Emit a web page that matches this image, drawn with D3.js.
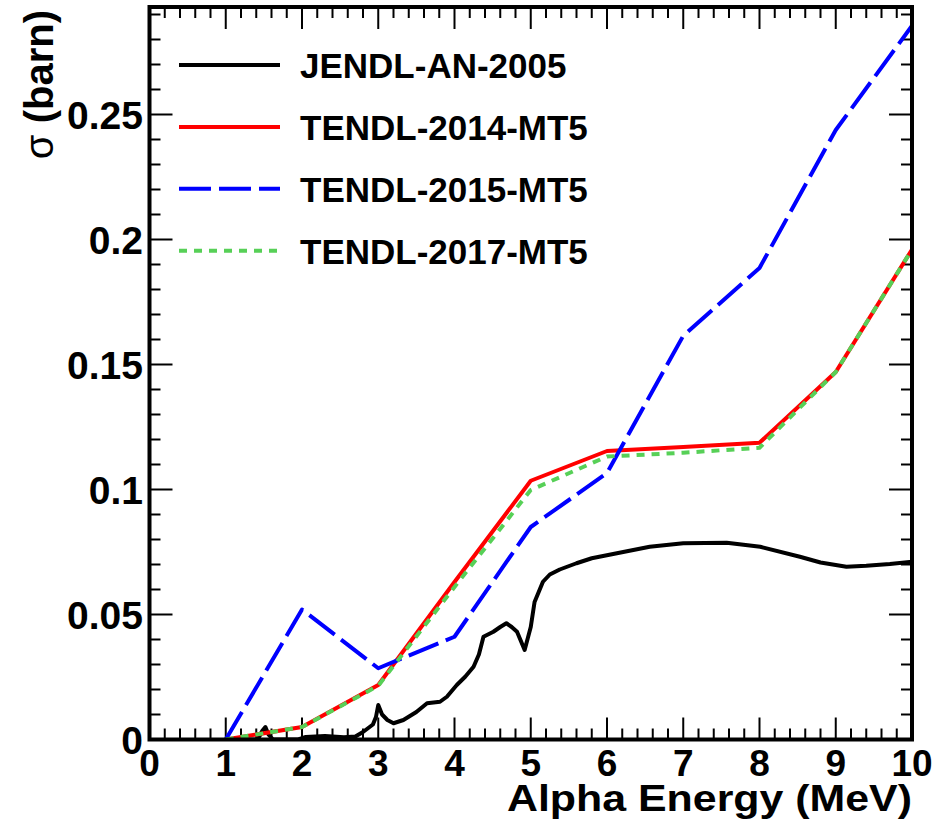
<!DOCTYPE html>
<html>
<head>
<meta charset="utf-8">
<script src="https://cdn.jsdelivr.net/npm/d3@7"></script>
<style>
  html, body { margin: 0; padding: 0; background: #fff; }
  text { font-family: "Liberation Sans", Arial, Helvetica, sans-serif; font-weight: bold; fill: #000; }
</style>
</head>
<body>
<svg id="chart" width="937" height="828"></svg>
<script>
// ---- data ----
const xTickValues = [0, 1, 2, 3, 4, 5, 6, 7, 8, 9, 10];
const yTickValues = [0, 0.05, 0.1, 0.15, 0.2, 0.25];
const yTickLabels = ["0", "0.05", "0.1", "0.15", "0.2", "0.25"];
const seriesNames = ["JENDL-AN-2005", "TENDL-2014-MT5", "TENDL-2015-MT5", "TENDL-2017-MT5"];

const jendlEnergy = [1.0, 1.42, 1.48, 1.52, 1.56, 1.62, 1.95, 2.05, 2.3, 2.55, 2.7, 2.8, 2.93, 2.97, 3.0, 3.05, 3.12, 3.2, 3.33, 3.5, 3.64, 3.81, 3.9, 4.03, 4.14, 4.25, 4.32, 4.38, 4.51, 4.6, 4.68, 4.75, 4.82, 4.92, 5.0, 5.05, 5.16, 5.25, 5.38, 5.6, 5.8, 6.13, 6.56, 7.0, 7.57, 8.01, 8.53, 8.8, 9.14, 9.4, 9.71, 10.0];
const jendlSigma  = [0, 0, 0.0035, 0.005, 0.002, 0, 0, 0.001, 0.0014, 0.0009, 0.0012, 0.003, 0.006, 0.009, 0.0138, 0.01, 0.0078, 0.0065, 0.0078, 0.011, 0.0145, 0.0151, 0.0171, 0.0218, 0.0251, 0.0291, 0.034, 0.0411, 0.0431, 0.045, 0.0465, 0.045, 0.0431, 0.0358, 0.045, 0.055, 0.0631, 0.066, 0.068, 0.0705, 0.0725, 0.0745, 0.0771, 0.0785, 0.0787, 0.0771, 0.0731, 0.0708, 0.0691, 0.0695, 0.0702, 0.0711];

const tendlEnergy = [1, 2, 3, 4, 5, 6, 7, 8, 9, 10];
const tendl2014Sigma = [0, 0.005, 0.0218, 0.063, 0.1035, 0.1154, 0.117, 0.1187, 0.147, 0.196];
const tendl2015Sigma = [0, 0.052, 0.0285, 0.0411, 0.085, 0.1066, 0.1615, 0.1886, 0.2438, 0.2855];
const tendl2017Sigma = [0, 0.005, 0.0215, 0.061, 0.0998, 0.1132, 0.1147, 0.1167, 0.147, 0.196];

// ---- layout ----
const svg = d3.select("#chart");
const L = 149.5, R = 912, T = 7, B = 739.5;
const x = d3.scaleLinear().domain([0, 10]).range([L, R]);
const y = d3.scaleLinear().domain([0, 0.293]).range([B, T]);

const series = [
  { name: seriesNames[0], e: jendlEnergy, s: jendlSigma, color: "#000000", dash: null },
  { name: seriesNames[1], e: tendlEnergy, s: tendl2014Sigma, color: "#ff0000", dash: null },
  { name: seriesNames[2], e: tendlEnergy, s: tendl2015Sigma, color: "#0000ff", dash: "32,8" },
  { name: seriesNames[3], e: tendlEnergy, s: tendl2017Sigma, color: "#57d057", dash: "8,7" }
];

svg.append("defs").append("clipPath").attr("id", "clip")
  .append("rect").attr("x", L).attr("y", T).attr("width", R - L).attr("height", B - T);

// ---- ticks (ROOT-style, on all four sides, pointing inward) ----
const tickG = svg.append("g").attr("stroke", "#000").attr("stroke-width", 2);
const xMinor = d3.range(0, 10.0001, 0.2);
xMinor.forEach(v => {
  const major = Math.abs(v - Math.round(v)) < 1e-6;
  const len = major ? 22 : 11;
  tickG.append("line").attr("x1", x(v)).attr("x2", x(v)).attr("y1", B).attr("y2", B - len);
  tickG.append("line").attr("x1", x(v)).attr("x2", x(v)).attr("y1", T).attr("y2", T + len);
});
const yMinor = d3.range(0, 0.2931, 0.01);
yMinor.forEach(v => {
  const major = Math.abs(v / 0.05 - Math.round(v / 0.05)) < 1e-6;
  const len = major ? 23 : 11;
  tickG.append("line").attr("x1", L).attr("x2", L + len).attr("y1", y(v)).attr("y2", y(v));
  tickG.append("line").attr("x1", R).attr("x2", R - len).attr("y1", y(v)).attr("y2", y(v));
});

// ---- curves ----
const line = d3.line().x(d => x(d[0])).y(d => y(d[1]));
const plotG = svg.append("g").attr("clip-path", "url(#clip)");
series.forEach(sr => {
  const pts = sr.e.map((e, i) => [e, sr.s[i]]);
  plotG.append("path").datum(pts)
    .attr("d", line)
    .attr("fill", "none")
    .attr("stroke", sr.color)
    .attr("stroke-width", 4)
    .attr("stroke-linejoin", "round")
    .attr("stroke-dasharray", sr.dash);
});

// ---- frame ----
svg.append("rect").attr("x", L).attr("y", T).attr("width", R - L).attr("height", B - T)
  .attr("fill", "none").attr("stroke", "#000").attr("stroke-width", 4);

// ---- tick labels ----
svg.append("g").selectAll("text").data(xTickValues).join("text")
  .attr("x", d => x(d)).attr("y", 776)
  .attr("text-anchor", "middle").attr("font-size", 37)
  .text(d => d);
svg.append("g").selectAll("text").data(yTickValues).join("text")
  .attr("x", 143).attr("y", d => y(d) + 14)
  .attr("text-anchor", "end").attr("font-size", 39)
  .text((d, i) => yTickLabels[i]);

// ---- axis titles ----
svg.append("text").attr("x", 912).attr("y", 811).attr("text-anchor", "end")
  .attr("font-size", 36).attr("textLength", 405).attr("lengthAdjust", "spacingAndGlyphs")
  .text("Alpha Energy (MeV)");
const yt = svg.append("text").attr("transform", "translate(53,10) rotate(-90)")
  .attr("text-anchor", "end").attr("font-size", 40);
yt.append("tspan").attr("font-weight", "normal").text("σ ");
yt.append("tspan").text("(barn)");

// ---- legend ----
const legG = svg.append("g");
series.forEach((sr, i) => {
  const ly = 65 + i * 61.9;
  legG.append("line").attr("x1", 179).attr("x2", 280).attr("y1", ly).attr("y2", ly)
    .attr("stroke", sr.color).attr("stroke-width", 4).attr("stroke-dasharray", sr.dash);
  legG.append("text").attr("x", 300).attr("y", ly + 13).attr("font-size", 35).text(sr.name);
});
</script>
</body>
</html>
